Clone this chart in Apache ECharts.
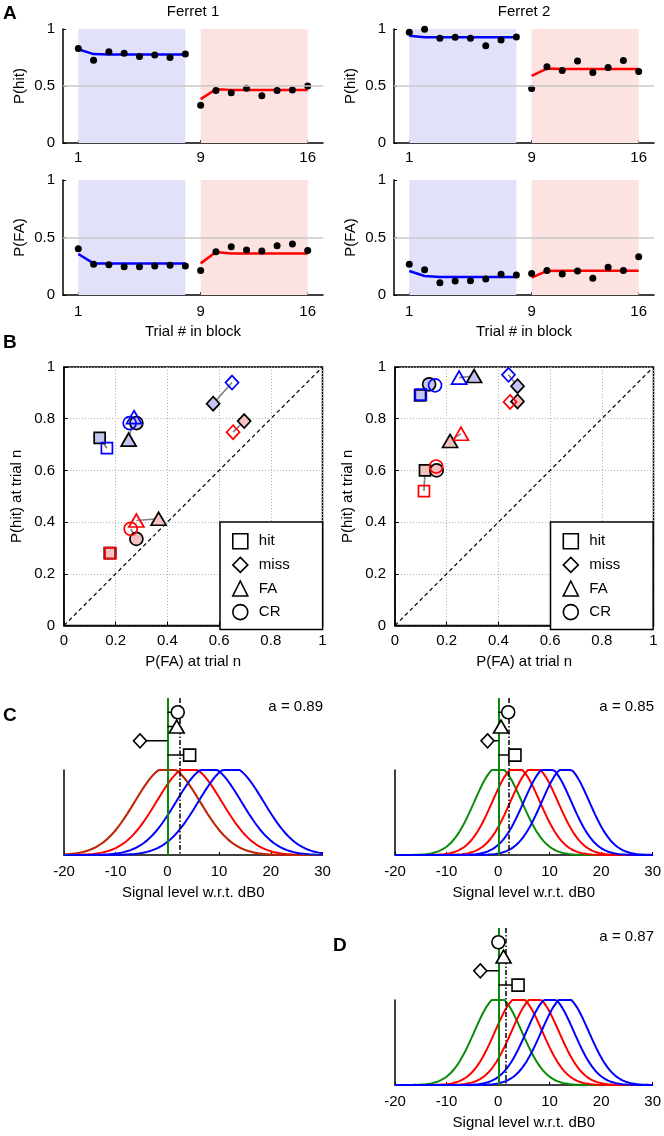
<!DOCTYPE html>
<html><head><meta charset="utf-8">
<script src="https://cdn.jsdelivr.net/npm/echarts/dist/echarts.min.js"></script>
<style>html,body{margin:0;padding:0;background:#fff}#c{width:664px;height:1136px}</style>
</head><body><div id="c"></div>
<script>
const FONT = 'Liberation Sans, Arial, Helvetica, sans-serif';

// ---------- Panel A data ----------
const TRIALS = [1,2,3,4,5,6,7,8,9,10,11,12,13,14,15,16];
const TRIALS_BLUE = [1,2,3,4,5,6,7,8];
const TRIALS_RED = [9,10,11,12,13,14,15,16];
const TICK_TRIALS = [1,9,16];
const TICK_P = [0,0.5,1];
const BLOCK_BLUE = [1,8];
const BLOCK_RED = [9,16];
const F1_HIT = [0.828,0.726,0.800,0.787,0.758,0.773,0.749,0.781, 0.332,0.461,0.440,0.481,0.414,0.461,0.464,0.499];
const F1_HIT_FIT_BLUE = [0.822,0.780,0.776,0.776,0.776,0.776,0.776,0.776];
const F1_HIT_FIT_RED = [0.385,0.472,0.466,0.466,0.466,0.466,0.466,0.466];
const F2_HIT = [0.971,0.997,0.918,0.927,0.918,0.854,0.904,0.930, 0.478,0.668,0.636,0.720,0.618,0.662,0.723,0.627];
const F2_HIT_FIT_BLUE = [0.940,0.928,0.927,0.927,0.927,0.927,0.927,0.927];
const F2_HIT_FIT_RED = [0.589,0.653,0.650,0.650,0.650,0.650,0.650,0.650];
const F1_FA = [0.403,0.267,0.264,0.246,0.246,0.252,0.258,0.252, 0.214,0.377,0.420,0.391,0.383,0.429,0.443,0.386];
const F1_FA_FIT_BLUE = [0.357,0.275,0.275,0.275,0.275,0.275,0.275,0.275];
const F1_FA_FIT_RED = [0.275,0.374,0.360,0.360,0.360,0.360,0.360,0.360];
const F2_FA = [0.267,0.220,0.107,0.122,0.125,0.139,0.180,0.174, 0.188,0.214,0.183,0.209,0.145,0.241,0.212,0.333];
const F2_FA_FIT_BLUE = [0.209,0.165,0.157,0.157,0.157,0.157,0.157,0.157];
const F2_FA_FIT_RED = [0.151,0.209,0.210,0.210,0.210,0.210,0.210,0.210];

// ---------- Panel B data (order: hit, miss, FA, CR) ----------
const B_NAMES = ['hit','miss','FA','CR'];
const B1_BLUE_FILLED = [[0.138,0.726],[0.577,0.858],[0.250,0.719],[0.280,0.783]];
const B1_BLUE_OPEN   = [[0.166,0.686],[0.650,0.940],[0.271,0.806],[0.254,0.783]];
const B1_RED_FILLED  = [[0.177,0.280],[0.697,0.791],[0.366,0.413],[0.280,0.335]];
const B1_RED_OPEN    = [[0.180,0.280],[0.654,0.748],[0.280,0.406],[0.258,0.374]];
const B2_BLUE_FILLED = [[0.097,0.890],[0.474,0.926],[0.306,0.965],[0.132,0.933]];
const B2_BLUE_OPEN   = [[0.100,0.893],[0.439,0.970],[0.248,0.959],[0.155,0.929]];
const B2_RED_FILLED  = [[0.116,0.600],[0.474,0.867],[0.213,0.714],[0.161,0.600]];
const B2_RED_OPEN    = [[0.112,0.520],[0.445,0.865],[0.255,0.742],[0.159,0.615]];

// ---------- Panel C / D data ----------
const C1_GREEN = [0]; const C1_RED = [0, 4.2]; const C1_BLUE = [8.0, 12.3];
const C1_SIGMA = 6.3; const C1_THRESH = 2.4; const C1_MARK = [4.3, -5.3, 1.8, 2.0]; // hit, miss, FA, CR
const C2_GREEN = [0]; const C2_RED = [3.5, 7.0]; const C2_BLUE = [9.6, 13.1];
const C2_SIGMA = 4.6; const C2_THRESH = 2.0; const C2_MARK = [3.2, -2.1, 0.5, 1.9];
const D_GREEN = [0]; const D_RED = [4.0, 7.2]; const D_BLUE = [10.1, 13.0];
const D_SIGMA = 4.6; const D_THRESH = 1.4; const D_MARK = [3.8, -3.5, 1.0, 0.0];
const C_LABELS = ['a = 0.89','a = 0.85','a = 0.87'];
const SIGNAL_TICKS_MIN = -20, SIGNAL_TICKS_MAX = 30;
const CLIP = 0.965;

// ---------- build ----------
const BLACK = '#000';
const BLUE = '#0000ff', RED = '#ff0000', GREEN = '#0a8a0a';
const txt = s => ({color:BLACK, fontSize:s, fontFamily:FONT});
const grids=[], xAxes=[], yAxes=[], series=[], legends=[], graphic=[];
function addGrid(g, xa, ya){ const i=grids.length; grids.push(g); xAxes.push(Object.assign({gridIndex:i}, xa)); yAxes.push(Object.assign({gridIndex:i}, ya)); return i; }
const axLine = {show:true, onZero:false, lineStyle:{color:BLACK, width:1.5}};

// Panel A
const A_PANELS = [
 {pts:F1_HIT, fb:F1_HIT_FIT_BLUE, fr:F1_HIT_FIT_RED, yname:'P(hit)', xname:'', left:63, top:29, h:114, lm:7},
 {pts:F2_HIT, fb:F2_HIT_FIT_BLUE, fr:F2_HIT_FIT_RED, yname:'P(hit)', xname:'', left:394, top:29, h:114, lm:7},
 {pts:F1_FA, fb:F1_FA_FIT_BLUE, fr:F1_FA_FIT_RED, yname:'P(FA)', xname:'Trial # in block', left:63, top:180, h:115, lm:9},
 {pts:F2_FA, fb:F2_FA_FIT_BLUE, fr:F2_FA_FIT_RED, yname:'P(FA)', xname:'Trial # in block', left:394, top:180, h:115, lm:9}
];
A_PANELS.forEach(p=>{
  const gi = addGrid({left:p.left, top:p.top, width:260, height:p.h},
    {type:'value', min:0, max:17, axisLine:axLine,
     axisTick:{show:true, inside:true, length:3, customValues:TICK_TRIALS, lineStyle:{color:BLACK}},
     axisLabel:Object.assign({customValues:TICK_TRIALS, margin:p.lm}, txt(15)),
     splitLine:{show:false}, name:p.xname, nameLocation:'middle', nameGap:29, nameTextStyle:txt(15)},
    {type:'value', min:0, max:1, axisLine:axLine,
     axisTick:{show:true, inside:true, length:3, customValues:TICK_P, lineStyle:{color:BLACK}},
     axisLabel:Object.assign({customValues:TICK_P, margin:8}, txt(15)),
     splitLine:{show:false}, name:p.yname, nameLocation:'middle', nameGap:36, nameTextStyle:txt(15)});
  series.push({type:'scatter', xAxisIndex:gi, yAxisIndex:gi, data:[], z:1, silent:true,
    markArea:{silent:true, data:[
      [{xAxis:BLOCK_BLUE[0], yAxis:0, itemStyle:{color:'rgb(225,225,250)', opacity:1}},{xAxis:BLOCK_BLUE[1], yAxis:1}],
      [{xAxis:BLOCK_RED[0], yAxis:0, itemStyle:{color:'rgb(253,226,226)', opacity:1}},{xAxis:BLOCK_RED[1], yAxis:1}]]}});
  series.push({type:'line', xAxisIndex:gi, yAxisIndex:gi, data:[], z:2, silent:true,
    markLine:{silent:true, symbol:'none', label:{show:false}, lineStyle:{color:'#c8c8c8', width:1.5, type:'solid'}, data:[{yAxis:0.5}]}});
  series.push({type:'line', xAxisIndex:gi, yAxisIndex:gi, z:3, silent:true, showSymbol:false,
    lineStyle:{color:BLUE, width:2.5}, data:TRIALS_BLUE.map((t,i)=>[t,p.fb[i]])});
  series.push({type:'line', xAxisIndex:gi, yAxisIndex:gi, z:3, silent:true, showSymbol:false,
    lineStyle:{color:RED, width:2.5}, data:TRIALS_RED.map((t,i)=>[t,p.fr[i]])});
  series.push({type:'scatter', xAxisIndex:gi, yAxisIndex:gi, z:4, silent:true, symbolSize:7,
    itemStyle:{color:BLACK, opacity:1}, data:TRIALS.map((t,i)=>[t,p.pts[i]])});
});

// Panel B
const B_SYMBOLS = ['rect','diamond','triangle','circle'];
const B_SIZES = [11,[13,14],[15,13],13];
const B_PANELS = [
  {left:64, bf:B1_BLUE_FILLED, bo:B1_BLUE_OPEN, rf:B1_RED_FILLED, ro:B1_RED_OPEN, legLeft:220},
  {left:395, bf:B2_BLUE_FILLED, bo:B2_BLUE_OPEN, rf:B2_RED_FILLED, ro:B2_RED_OPEN, legLeft:550.5}
];
B_PANELS.forEach((p,k)=>{
  const gi = addGrid({left:p.left, top:367, width:258.5, height:258.5, show:true, borderColor:BLACK, borderWidth:1.5, backgroundColor:'transparent'},
    {type:'value', min:0, max:1, interval:0.2, axisLine:axLine,
     axisTick:{show:true, inside:true, length:4, lineStyle:{color:BLACK}},
     axisLabel:Object.assign({margin:8}, txt(15)),
     splitLine:{show:true, lineStyle:{color:'#b0b0b0', type:[1,2], width:1}},
     name:'P(FA) at trial n', nameLocation:'middle', nameGap:29, nameTextStyle:txt(15)},
    {type:'value', min:0, max:1, interval:0.2, axisLine:axLine,
     axisTick:{show:true, inside:true, length:4, lineStyle:{color:BLACK}},
     axisLabel:Object.assign({margin:9}, txt(15)),
     splitLine:{show:true, lineStyle:{color:'#b0b0b0', type:[1,2], width:1}},
     name:'P(hit) at trial n', nameLocation:'middle', nameGap:40, nameTextStyle:txt(15)});
  series.push({type:'line', xAxisIndex:gi, yAxisIndex:gi, z:2, silent:true, showSymbol:false,
    lineStyle:{color:BLACK, width:1.2, type:[4,3]}, data:[[0,0],[1,1]]});
  for (let i=0;i<4;i++){
    [[p.bf[i],p.bo[i]],[p.rf[i],p.ro[i]]].forEach(pair=>{
      series.push({type:'line', xAxisIndex:gi, yAxisIndex:gi, z:3, silent:true, showSymbol:false,
        lineStyle:{color:'#808080', width:1.6}, data:pair});
    });
  }
  const mk = (arr, fill, edge) => ({type:'scatter', xAxisIndex:gi, yAxisIndex:gi, z:4, silent:true,
    itemStyle:{color:fill, borderColor:edge, borderWidth:1.7, opacity:1},
    data:arr.map((v,i)=>({value:v, symbol:B_SYMBOLS[i], symbolSize:B_SIZES[i]}))});
  series.push(mk(p.bf, '#c4c4f0', BLACK));
  series.push(mk(p.rf, '#f5c0c0', BLACK));
  series.push(mk(p.bo, 'rgba(255,255,255,0)', BLUE));
  series.push(mk(p.ro, 'rgba(255,255,255,0)', RED));
  if (k===0){
    B_NAMES.forEach((n,i)=>series.push({type:'scatter', name:n, xAxisIndex:gi, yAxisIndex:gi, data:[], symbol:B_SYMBOLS[i],
      itemStyle:{color:'#fff', borderColor:BLACK, borderWidth:1.5, opacity:1}}));
  }
  legends.push({orient:'vertical', left:p.legLeft, top:522, itemWidth:15, itemHeight:15, itemGap:7,
    padding:[11,33,9,12], borderColor:BLACK, borderWidth:1.5, backgroundColor:'#fff', borderRadius:0,
    selectedMode:false, textStyle:Object.assign({padding:[0,0,0,6]}, txt(15)),
    data:B_NAMES.map((n,i)=>({name:n, icon:B_SYMBOLS[i], itemStyle:{color:'#fff', borderColor:BLACK, borderWidth:1.6, opacity:1}}))});
});

// Panels C / D
const XS = [];
for (let x=SIGNAL_TICKS_MIN; x<=SIGNAL_TICKS_MAX+1e-9; x+=0.25) XS.push(x);
const gauss = (mu, s) => XS.map(x => [x, Math.min(Math.exp(-(x-mu)*(x-mu)/(2*s*s)), CLIP)]);
const MARK_ROWS = [4,3,2,1];
const C_SYMBOLS = ['rect','diamond','triangle','circle'];
const C_SIZES = [12,[13,14],[15,13],13];
const C_PANELS = [
  {left:64, top:698, g:C1_GREEN, r:C1_RED, b:C1_BLUE, s:C1_SIGMA, th:C1_THRESH, m:C1_MARK, greenOp:0.28, label:C_LABELS[0]},
  {left:395, top:698, g:C2_GREEN, r:C2_RED, b:C2_BLUE, s:C2_SIGMA, th:C2_THRESH, m:C2_MARK, greenOp:1, label:C_LABELS[1]},
  {left:395, top:928, g:D_GREEN, r:D_RED, b:D_BLUE, s:D_SIGMA, th:D_THRESH, m:D_MARK, greenOp:1, label:C_LABELS[2]}
];
C_PANELS.forEach(p=>{
  const gi = addGrid({left:p.left, top:p.top+72, width:258.5, height:85},
    {type:'value', min:SIGNAL_TICKS_MIN, max:SIGNAL_TICKS_MAX, interval:10, axisLine:axLine,
     axisTick:{show:true, inside:true, length:3, lineStyle:{color:BLACK}},
     axisLabel:Object.assign({margin:9}, txt(15)), splitLine:{show:false},
     name:'Signal level w.r.t. dB0', nameLocation:'middle', nameGap:30, nameTextStyle:txt(15)},
    {type:'value', min:0, max:CLIP, axisLine:axLine, axisTick:{show:false}, axisLabel:{show:false}, splitLine:{show:false}});
  const oi = addGrid({left:p.left, top:p.top, width:258.5, height:157},
    {type:'value', min:SIGNAL_TICKS_MIN, max:SIGNAL_TICKS_MAX, show:false},
    {type:'value', min:0, max:11, inverse:true, show:false});
  const curve = (mu, col, op, z) => ({type:'line', xAxisIndex:gi, yAxisIndex:gi, z:z, silent:true, showSymbol:false, clip:false,
    lineStyle:{color:col, width:2, opacity:op}, data:gauss(mu, p.s)});
  if (p.greenOp>=1) p.g.forEach(mu=>series.push(curve(mu, GREEN, 1, 2)));
  p.r.forEach(mu=>series.push(curve(mu, RED, 1, 2)));
  p.b.forEach(mu=>series.push(curve(mu, BLUE, 1, 2)));
  if (p.greenOp<1) p.g.forEach(mu=>series.push(curve(mu, GREEN, p.greenOp, 3)));
  series.push({type:'line', xAxisIndex:oi, yAxisIndex:oi, data:[], z:4, silent:true,
    markLine:{silent:true, symbol:'none', label:{show:false}, data:[
      {xAxis:0, lineStyle:{color:GREEN, width:2, type:'solid'}},
      {xAxis:p.th, lineStyle:{color:BLACK, width:1.5, type:[5,2,1.5,2]}}]}});
  p.m.forEach((x,i)=>series.push({type:'line', xAxisIndex:oi, yAxisIndex:oi, z:5, silent:true, showSymbol:false,
    lineStyle:{color:BLACK, width:1.5}, data:[[0,MARK_ROWS[i]],[x,MARK_ROWS[i]]]}));
  series.push({type:'scatter', xAxisIndex:oi, yAxisIndex:oi, z:6, silent:true,
    itemStyle:{color:'#fff', borderColor:BLACK, borderWidth:1.6, opacity:1},
    data:p.m.map((x,i)=>({value:[x,MARK_ROWS[i]], symbol:C_SYMBOLS[i], symbolSize:C_SIZES[i]}))});
  graphic.push({type:'text', x:p.left+259, y:p.top+9, style:{text:p.label, font:'15px '+FONT, fill:BLACK,
    textAlign:'right', textVerticalAlign:'middle', align:'right', verticalAlign:'middle'}});
});

// Titles & panel letters
const addText = (t, x, y, font, align) => graphic.push({type:'text', x:x, y:y, style:{text:t, font:font, fill:BLACK,
  textAlign:align, textVerticalAlign:'middle', align:align, verticalAlign:'middle'}});
addText('Ferret 1', 193, 12, '15px '+FONT, 'center');
addText('Ferret 2', 524, 12, '15px '+FONT, 'center');
addText('A', 3, 14, 'bold 19px '+FONT, 'left');
addText('B', 3, 343, 'bold 19px '+FONT, 'left');
addText('C', 3, 716, 'bold 19px '+FONT, 'left');
addText('D', 333, 946, 'bold 19px '+FONT, 'left');

const chart = echarts.init(document.getElementById('c'), null, {renderer:'canvas', width:664, height:1136});
chart.setOption({animation:false, backgroundColor:'#fff', textStyle:{fontFamily:FONT},
  grid:grids, xAxis:xAxes, yAxis:yAxes, series:series, legend:legends, graphic:graphic});
</script></body></html>
